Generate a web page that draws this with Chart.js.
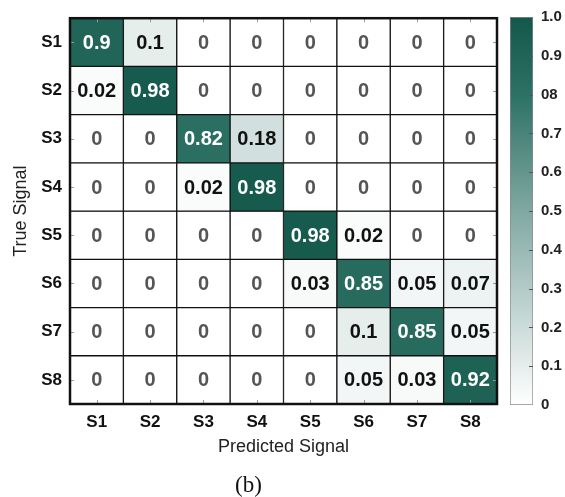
<!DOCTYPE html>
<html>
<head>
<meta charset="utf-8">
<script src="https://cdn.jsdelivr.net/npm/chart.js@4.4.1/dist/chart.umd.min.js"></script>
<style>
  html, body { margin: 0; padding: 0; background: #fff; }
  #wrap { position: relative; width: 565px; height: 497px; }
  #matrix { position: absolute; left: 0; top: 0; }
  #scale { position: absolute; left: 500px; top: 0; }
</style>
</head>
<body>
<div id="wrap">
  <canvas id="matrix" width="565" height="497"></canvas>
  <canvas id="scale" width="65" height="497"></canvas>
</div>
<script>
// Signal classes on both axes
const predictedLabels = ['S1', 'S2', 'S3', 'S4', 'S5', 'S6', 'S7', 'S8'];
const trueLabels = ['S1', 'S2', 'S3', 'S4', 'S5', 'S6', 'S7', 'S8'];

// One row per true signal, one entry per predicted signal
const rowS1 = [0.9, 0.1, 0, 0, 0, 0, 0, 0];
const rowS2 = [0.02, 0.98, 0, 0, 0, 0, 0, 0];
const rowS3 = [0, 0, 0.82, 0.18, 0, 0, 0, 0];
const rowS4 = [0, 0, 0.02, 0.98, 0, 0, 0, 0];
const rowS5 = [0, 0, 0, 0, 0.98, 0.02, 0, 0];
const rowS6 = [0, 0, 0, 0, 0.03, 0.85, 0.05, 0.07];
const rowS7 = [0, 0, 0, 0, 0, 0.1, 0.85, 0.05];
const rowS8 = [0, 0, 0, 0, 0, 0.05, 0.03, 0.92];
const confusionRows = [rowS1, rowS2, rowS3, rowS4, rowS5, rowS6, rowS7, rowS8];

// Colour bar tick labels, bottom to top
const colorbarTicks = ['0', '0.1', '0.2', '0.3', '0.4', '0.5', '0.6', '0.7', '08', '0.9', '1.0'];

const SANS = '"Liberation Sans", Arial, Helvetica, sans-serif';
const SERIF = '"Liberation Serif", "Times New Roman", serif';
Chart.defaults.font.family = SANS;

// white -> teal colour map
const colormap = [
  [0.0, [255, 255, 255]],
  [0.5, [128, 168, 162]],
  [0.8, [45, 113, 101]],
  [1.0, [20, 88, 76]]
];
function colorFor(v) {
  for (let k = 1; k < colormap.length; k++) {
    const [p1, c1] = colormap[k];
    const [p0, c0] = colormap[k - 1];
    if (v <= p1) {
      const t = (v - p0) / (p1 - p0);
      const c = c0.map((a, n) => Math.round(a + (c1[n] - a) * t));
      return `rgb(${c[0]},${c[1]},${c[2]})`;
    }
  }
  const c = colormap[colormap.length - 1][1];
  return `rgb(${c[0]},${c[1]},${c[2]})`;
}

// Cell labels, inner tick marks and outer frame
const cellDecor = {
  id: 'cellDecor',
  afterDatasetsDraw(chart) {
    const { ctx, chartArea: a } = chart;
    const xs = chart.scales.x, ys = chart.scales.y;
    ctx.save();
    // small inner tick marks
    ctx.strokeStyle = '#9a9a9a';
    ctx.lineWidth = 1;
    ctx.beginPath();
    predictedLabels.forEach((_, j) => {
      const px = Math.round(xs.getPixelForValue(j)) + 0.5;
      ctx.moveTo(px, a.top); ctx.lineTo(px, a.top + 4);
      ctx.moveTo(px, a.bottom); ctx.lineTo(px, a.bottom - 4);
    });
    trueLabels.forEach((_, i) => {
      const py = Math.round(ys.getPixelForValue(i + 0.5)) + 0.5;
      ctx.moveTo(a.left, py); ctx.lineTo(a.left + 4, py);
      ctx.moveTo(a.right, py); ctx.lineTo(a.right - 4, py);
    });
    ctx.stroke();

    // values in each cell
    ctx.font = `bold 20px ${SANS}`;
    ctx.textAlign = 'center';
    ctx.textBaseline = 'middle';
    chart.data.datasets.forEach((ds, di) => {
      const meta = chart.getDatasetMeta(di);
      meta.data.forEach((bar, j) => {
        const v = ds.values[j];
        const { x, y } = bar.getCenterPoint();
        ctx.fillStyle = v >= 0.5 ? '#ffffff' : (v > 0 ? '#111111' : '#555555');
        ctx.fillText(String(v), x, y + 1);
      });
    });

    // frame
    ctx.strokeStyle = '#111';
    ctx.lineWidth = 2.5;
    ctx.strokeRect(a.left, a.top, a.right - a.left, a.bottom - a.top);
    ctx.restore();
  }
};

new Chart(document.getElementById('matrix'), {
  type: 'bar',
  data: {
    labels: predictedLabels,
    datasets: confusionRows.map((vals, i) => ({
      label: trueLabels[i],
      values: vals,
      data: vals.map(() => [i, i + 1]),
      backgroundColor: vals.map(colorFor),
      borderColor: '#111',
      borderWidth: 1,
      borderSkipped: false,
      grouped: false,
      barPercentage: 1,
      categoryPercentage: 1
    }))
  },
  options: {
    responsive: false,
    animation: false,
    devicePixelRatio: 1,
    layout: { padding: { top: 10, right: 68, bottom: 0, left: 0 } },
    scales: {
      x: {
        type: 'category',
        offset: true,
        grid: { display: false, drawTicks: false, tickLength: 0 },
        border: { display: false },
        ticks: { color: '#111', padding: 8, font: { size: 17, weight: 'bold' } },
        title: {
          display: true, text: 'Predicted Signal', color: '#222',
          font: { size: 18 }, padding: { top: 0, bottom: 16 }
        },
        afterFit(s) { s.height = 70; }
      },
      y: {
        type: 'linear',
        min: 0,
        max: 8,
        reverse: true,
        grid: { display: false, drawTicks: false, tickLength: 0 },
        border: { display: false },
        afterBuildTicks(s) { s.ticks = trueLabels.map((_, i) => ({ value: i + 0.5 })); },
        ticks: {
          autoSkip: false, color: '#111', padding: 8,
          font: { size: 17, weight: 'bold' },
          callback: (v) => trueLabels[Math.floor(v)]
        },
        title: {
          display: true, text: 'True Signal', color: '#222',
          font: { size: 18 }, padding: { top: 10, bottom: 0 }
        },
        afterFit(s) { s.width = 70; }
      }
    },
    plugins: {
      legend: { display: false },
      tooltip: { enabled: false },
      title: {
        display: true, position: 'bottom', text: '(b)', color: '#111',
        font: { family: SERIF, size: 23, weight: 'normal', lineHeight: 1 },
        padding: 0
      }
    }
  },
  plugins: [cellDecor]
});

// Colour bar ticks drawn just inside the bar
const barTicks = {
  id: 'barTicks',
  afterDatasetsDraw(chart) {
    const { ctx, chartArea: a } = chart;
    const ys = chart.scales.y;
    ctx.save();
    ctx.strokeStyle = '#555';
    ctx.lineWidth = 1;
    ctx.beginPath();
    ys.ticks.forEach((t, i) => {
      if (i === 0 || i === ys.ticks.length - 1) return;
      const py = Math.round(ys.getPixelForValue(t.value)) + 0.5;
      ctx.moveTo(a.right - 4, py); ctx.lineTo(a.right, py);
    });
    ctx.stroke();
    ctx.restore();
  }
};

new Chart(document.getElementById('scale'), {
  type: 'bar',
  data: {
    labels: [''],
    datasets: [{
      data: [[0, 1]],
      backgroundColor(ctx) {
        const a = ctx.chart.chartArea;
        if (!a) return null;
        const g = ctx.chart.ctx.createLinearGradient(0, a.bottom, 0, a.top);
        colormap.forEach(([p, c]) => g.addColorStop(p, `rgb(${c[0]},${c[1]},${c[2]})`));
        return g;
      },
      borderColor: '#8a8a8a',
      borderWidth: 1,
      borderSkipped: false,
      barPercentage: 1,
      categoryPercentage: 1
    }]
  },
  options: {
    responsive: false,
    animation: false,
    devicePixelRatio: 1,
    layout: { padding: { top: 10, right: 0, bottom: 92, left: 10 } },
    scales: {
      x: { display: false },
      y: {
        position: 'right',
        min: 0,
        max: 1,
        grid: { display: false, drawTicks: false, tickLength: 0 },
        border: { display: false },
        ticks: {
          stepSize: 0.1, padding: 8, color: '#222',
          font: { size: 15, weight: 'bold' },
          callback: (v, i) => colorbarTicks[i]
        },
        afterFit(s) { s.width = 32; }
      }
    },
    plugins: { legend: { display: false }, tooltip: { enabled: false } }
  },
  plugins: [barTicks]
});
</script>
</body>
</html>
